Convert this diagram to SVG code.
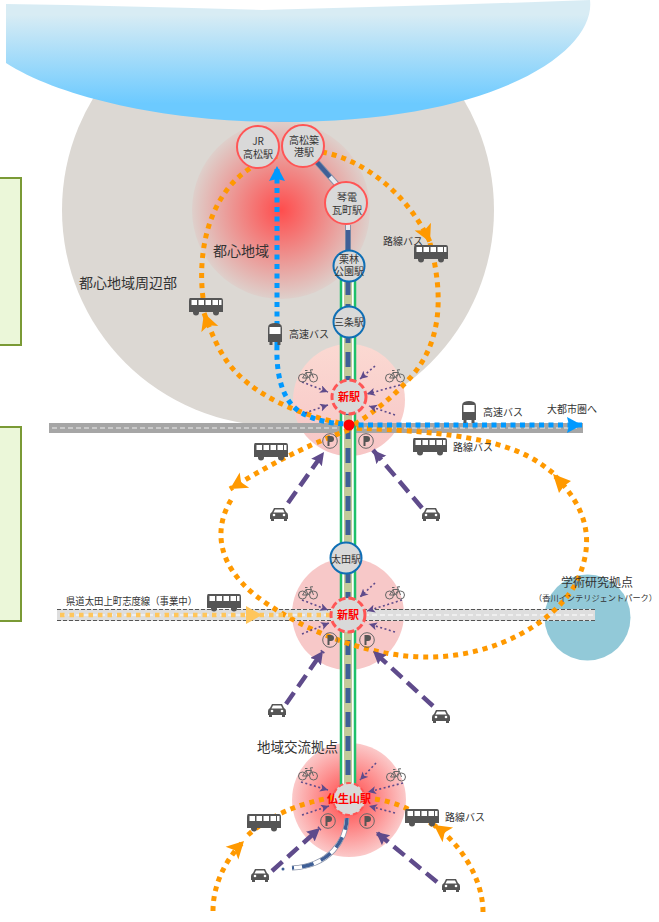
<svg xmlns="http://www.w3.org/2000/svg" width="659" height="922" viewBox="0 0 659 922">
<style>
text{font-family:"Noto Sans CJK JP","Liberation Sans",sans-serif;fill:#333;font-size:10px}
.c{text-anchor:middle}
.st{fill:#d9d9d9}
.rs{stroke:#f55;stroke-width:2}
.bs{stroke:#0f6fb5;stroke-width:2}
.rd{stroke:#f55;stroke-width:3;stroke-dasharray:7 3}
.or{fill:none;stroke:#f90;stroke-width:5;stroke-dasharray:5 5}
.bl{fill:none;stroke:#09f;stroke-width:5;stroke-dasharray:5 4.500}
.pt{fill:none;stroke:#5f4b8b;stroke-width:4.500;stroke-dasharray:14 7;marker-end:url(#pa)}
.pd{fill:none;stroke:#5f4b8b;stroke-width:1.600;stroke-dasharray:2 2.500;marker-end:url(#pb)}
.box{fill:#ebf7d9;stroke:#7a9a35;stroke-width:2}
.red{fill:#f00;font-weight:bold;font-size:11px}
</style>
<defs>
<clipPath id="landclip"><rect x="0" y="98" width="659" height="340"/></clipPath>
<linearGradient id="sea" x1="0" y1="0" x2="0" y2="1"><stop offset="0.12" stop-color="#d8ecf4"/><stop offset="0.85" stop-color="#6ccaff"/></linearGradient>
<radialGradient id="city"><stop offset="0" stop-color="#ff4d4d"/><stop offset="1" stop-color="#ff4d4d" stop-opacity="0.06"/></radialGradient>
<radialGradient id="hub"><stop offset="0.2" stop-color="#ff5f5f"/><stop offset="1" stop-color="#fbc9c9"/></radialGradient>
<linearGradient id="pk" x1="0" y1="0" x2="0" y2="1"><stop offset="0" stop-color="#fbd9d2"/><stop offset="1" stop-color="#f7c6c6"/></linearGradient>
<marker id="oa" markerUnits="userSpaceOnUse" markerWidth="22" markerHeight="22" refX="17" refY="10" orient="auto"><path d="M0,1L17,10L0,19L4,10Z" fill="#f90"/></marker>
<marker id="ba" markerUnits="userSpaceOnUse" markerWidth="20" markerHeight="20" refX="15" refY="8" orient="auto"><path d="M0,0L15,8L0,16L2,8Z" fill="#09f"/></marker>
<marker id="pa" markerUnits="userSpaceOnUse" markerWidth="16" markerHeight="16" refX="13" refY="6.500" orient="auto"><path d="M0,0L13,6.500L0,13L2,6.500Z" fill="#5f4b8b"/></marker>
<marker id="pb" markerUnits="userSpaceOnUse" markerWidth="10" markerHeight="10" refX="8" refY="4" orient="auto"><path d="M0,0L8,4L0,8L2,4Z" fill="#5f4b8b"/></marker>
<symbol id="bus" viewBox="0 0 36 18" overflow="visible"><path d="M2,0H33Q35,0 35,3V14H1V3Q1,0 2,0Z" fill="#555"/><path d="M3.500,2H9V7H3.500ZM10.500,2H16V7H10.500ZM17.500,2H23V7H17.500ZM24.500,2H30V7H24.500ZM31,2H33.500V7H31Z" fill="#fff"/><circle cx="8" cy="14.500" r="3" fill="#555"/><circle cx="28" cy="14.500" r="3" fill="#555"/></symbol>
<symbol id="fbus" viewBox="0 0 16 24" preserveAspectRatio="none" overflow="visible"><path d="M3,1Q8,-1 13,1Q15,2 15,5V19H1V5Q1,2 3,1Z" fill="#555"/><rect x="2.500" y="4" width="11" height="7" fill="#fff"/><rect x="2.500" y="19" width="3" height="3" fill="#555"/><rect x="10.500" y="19" width="3" height="3" fill="#555"/></symbol>
<symbol id="car" viewBox="0 0 18 14" overflow="visible"><path d="M4,1H14L16,5Q18,6 18,8V12H0V8Q0,6 2,5Z" fill="#555"/><path d="M5,2.500H13L14.500,5.500H3.500Z" fill="#fff"/><circle cx="4" cy="8" r="1.300" fill="#fff"/><circle cx="14" cy="8" r="1.300" fill="#fff"/><rect x="1" y="12" width="3" height="2" fill="#555"/><rect x="14" y="12" width="3" height="2" fill="#555"/></symbol>
<symbol id="bike" viewBox="0 0 20 14" overflow="visible"><g fill="none" stroke="#666" stroke-width="1"><circle cx="4.500" cy="9" r="4"/><circle cx="15.500" cy="9" r="4"/><path d="M4.500,9L8,3.500H13.500L15.500,9M8,3.500L10,9H4.500M10,9L13.500,3.500M7,1.500H9.500M13,3L12.500,0.800H15"/></g></symbol>
<symbol id="park" viewBox="0 0 16 16" overflow="visible"><circle cx="8" cy="8" r="7.300" fill="none" stroke="#666" stroke-width="1"/><path d="M5.500,13V3H9Q12,3 12,6Q12,9 9,9H7.500V13Z" fill="#555"/></symbol>
</defs>

<g id="background">
<circle cx="278" cy="210" r="216" fill="#dcd8d3" clip-path="url(#landclip)"/>
<path d="M6,4Q130,6 262,10Q430,6 590,0C596,50 500,122 280,122C170,122 60,98 6,63Z" fill="url(#sea)"/>
<circle cx="281" cy="210" r="89" fill="url(#city)"/>
<circle cx="587.500" cy="617.500" r="43" fill="#92c9d8"/>
<circle cx="349" cy="400" r="56" fill="url(#pk)"/>
<circle cx="348" cy="614" r="56" fill="#f7c8c8"/>
<circle cx="349" cy="800" r="57" fill="url(#hub)"/>
<rect class="box" x="-4" y="178" width="25" height="167"/>
<rect class="box" x="-4" y="427" width="25" height="194"/>
</g>

<g id="roads">
<rect x="49" y="423" width="534" height="10" fill="#a6a6a6"/>
<path d="M52,428H580" stroke="#eee" stroke-width="1.200" stroke-dasharray="5 3" fill="none"/>
<rect x="57" y="609" width="538" height="12" fill="#dedede"/>
<path d="M57,609.500H595M57,620.500H595" stroke="#555" stroke-width="1.200" stroke-dasharray="4 2" fill="none"/>
<path d="M60,615H595" stroke="#fff" stroke-width="1.200" stroke-dasharray="5 3" fill="none"/>
</g>

<g id="rail">
<rect x="340" y="280" width="16" height="512" fill="#fff"/>
<path d="M341,280V792M355,280V792" stroke="#1fc06a" stroke-width="2.500" fill="none"/>
<rect x="344" y="280" width="8" height="512" fill="#c3c99a"/>
<path d="M348,280V792" stroke="#3f5f96" stroke-width="5" stroke-dasharray="15 9" fill="none"/>
<path d="M315,160L340,188M348,225V250" stroke="#8a93a8" stroke-width="6" fill="none"/>
<path d="M315,160L340,188M348,225V250" stroke="#e8e8ee" stroke-width="4" fill="none"/>
<path d="M315,160L330,177M348,230V250" stroke="#3f5f96" stroke-width="4.500" fill="none"/>
<path d="M347,818C346,840 330,866 292,868" stroke="#8a93a8" stroke-width="5" fill="none"/>
<path d="M347,818C346,840 330,866 292,868" stroke="#fff" stroke-width="3.500" fill="none"/>
<path d="M347,818C346,840 330,866 292,868" stroke="#3f5f96" stroke-width="3.500" stroke-dasharray="12 8" fill="none"/>
<circle cx="283" cy="869" r="1.500" fill="#3f5f96"/>
</g>

<g id="connectors">
<path class="or" d="M340,423C300,415 250,395 226,360C218,348 212,335 204,313" marker-end="url(#oa)"/>
<path class="or" d="M203,298C196,240 215,170 282,155"/>
<path class="or" d="M322,152C365,160 408,195 430,242" marker-end="url(#oa)"/>
<path class="or" d="M430,243C445,300 440,345 410,378C390,400 370,415 349,428"/>
<path class="or" d="M349,430C320,440 280,458 230,489" marker-end="url(#oa)"/>
<path class="or" d="M231,500C213,530 218,565 255,595C300,630 370,658 430,657C500,656 555,620 575,585C595,545 590,510 553,474"/>
<path class="or" d="M553,473C525,450 490,432 349,428"/>
<path d="M553,474L571,481L564,486L559,493Z" fill="#f90"/>
<path class="or" d="M213,911C213,885 225,860 244,841" marker-end="url(#oa)"/>
<path class="or" d="M248,835C270,815 300,803 335,797"/>
<path class="or" d="M483,912C483,880 462,845 434,825" marker-end="url(#oa)"/>
<path class="or" d="M375,799C395,802 415,810 433,825"/>
<path d="M60,615H340" fill="none" stroke="#ffc65c" stroke-width="4.500" stroke-dasharray="4.500 5"/>
<path d="M246,606L262,615L246,624Z" fill="#ffc65c"/>
<path class="bl" d="M277,345C276,375 282,400 300,412C315,421 335,424 349,424"/>
<path class="bl" d="M277,345V166" marker-end="url(#ba)"/>
<path class="bl" d="M349,425H582" marker-end="url(#ba)"/>
<circle cx="349" cy="425" r="5.500" fill="#f00"/>

<path class="pt" d="M288,503L324,452"/>
<path class="pt" d="M422,508L373,450"/>
<path class="pt" d="M286,704L323,651"/>
<path class="pt" d="M433,706L373,651"/>
<path class="pt" d="M272,871L320,828"/>
<path class="pt" d="M437,882L376,832"/>

<path class="pd" d="M302,382L328,392"/><path class="pd" d="M375,366L360,379"/><path class="pd" d="M400,385L367,394"/><path class="pd" d="M395,415L369,406"/><path class="pd" d="M305,413L328,405"/>
<path class="pd" d="M302,600L328,610"/><path class="pd" d="M375,583L360,597"/><path class="pd" d="M402,600L367,611"/><path class="pd" d="M395,632L369,624"/><path class="pd" d="M302,634L329,623"/>
<path class="pd" d="M301,782L328,790"/><path class="pd" d="M376,763L360,780"/><path class="pd" d="M403,783L368,792"/><path class="pd" d="M395,813L369,806"/><path class="pd" d="M302,815L329,806"/>
</g>

<g id="icons">
<use href="#bus" x="188" y="298" width="36" height="18"/>
<use href="#bus" x="413" y="245" width="36" height="18"/>
<use href="#bus" x="253" y="443" width="36" height="18"/>
<use href="#bus" x="412" y="438" width="36" height="18"/>
<use href="#bus" x="206" y="594" width="36" height="18"/>
<use href="#bus" x="246" y="814" width="36" height="18"/>
<use href="#bus" x="404" y="809" width="36" height="18"/>
<use href="#fbus" x="267" y="323" width="16" height="24"/>
<use href="#fbus" x="461" y="401" width="16" height="24"/>
<use href="#car" x="270" y="507" width="18" height="14"/><use href="#car" x="422" y="507" width="18" height="14"/>
<use href="#car" x="268" y="703" width="18" height="14"/><use href="#car" x="432" y="709" width="18" height="14"/>
<use href="#car" x="251" y="868" width="18" height="14"/><use href="#car" x="442" y="878" width="18" height="14"/>
<use href="#bike" x="298" y="369" width="20" height="14"/><use href="#bike" x="385" y="369" width="20" height="14"/>
<use href="#bike" x="298" y="586" width="20" height="14"/><use href="#bike" x="385" y="586" width="20" height="14"/>
<use href="#bike" x="298" y="767" width="20" height="14"/><use href="#bike" x="386" y="768" width="20" height="14"/>
<use href="#park" x="322" y="433" width="16" height="16"/><use href="#park" x="358" y="433" width="16" height="16"/>
<use href="#park" x="322" y="632" width="16" height="16"/><use href="#park" x="359" y="632" width="16" height="16"/>
<use href="#park" x="320" y="813" width="16" height="16"/><use href="#park" x="359" y="813" width="16" height="16"/>
</g>

<g id="st-jr"><circle class="st rs" cx="258" cy="147" r="21"/><text class="c" x="258" y="145">JR</text><text class="c" x="258" y="158">高松駅</text></g>
<g id="st-chikko"><circle class="st rs" cx="303" cy="146" r="21"/><text class="c" x="304" y="144">高松築</text><text class="c" x="304" y="156">港駅</text></g>
<g id="st-kawaramachi"><circle class="st rs" cx="346" cy="203" r="21"/><text class="c" x="347" y="201">琴電</text><text class="c" x="347" y="214">瓦町駅</text></g>
<g id="st-ritsurin"><circle class="st bs" cx="349" cy="266" r="15.500"/><text class="c" x="349" y="263">栗林</text><text class="c" x="349" y="275">公園駅</text></g>
<g id="st-sanjo"><circle class="st bs" cx="349" cy="322" r="15.500"/><text class="c" x="349" y="326">三条駅</text></g>
<g id="st-new1"><circle class="st rd" cx="349" cy="397" r="17"/><text class="c red" x="349" y="401">新駅</text></g>
<g id="st-ota"><circle class="st bs" cx="346" cy="558" r="15.500"/><text class="c" x="346" y="563">太田駅</text></g>
<g id="st-new2"><circle class="st rd" cx="348" cy="615" r="17"/><text class="c red" x="348" y="619">新駅</text></g>
<g id="st-busshozan"><circle class="st" cx="349" cy="799" r="16" stroke="#f55" stroke-width="2" stroke-dasharray="5 3"/><text class="c red" x="349" y="803">仏生山駅</text></g>

<g id="labels">
<text x="213" y="256" style="font-size:14px">都心地域</text>
<text x="79" y="288" style="font-size:14px">都心地域周辺部</text>
<text x="383" y="245">路線バス</text>
<text x="289" y="338">高速バス</text>
<text x="483" y="416">高速バス</text>
<text x="547" y="413">大都市圏へ</text>
<text x="453" y="451">路線バス</text>
<text x="66" y="605" textLength="131" lengthAdjust="spacingAndGlyphs">県道太田上町志度線（事業中）</text>
<text x="561" y="587" style="font-size:12px">学術研究拠点</text>
<text x="534" y="601" style="font-size:8.200px" textLength="123">（香川インテリジェントパーク）</text>
<text x="257" y="752" style="font-size:13.500px">地域交流拠点</text>
<text x="445" y="821">路線バス</text>
</g>
</svg>
